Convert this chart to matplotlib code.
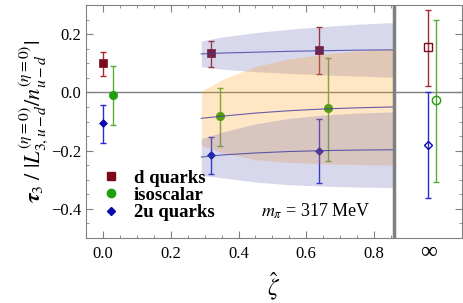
import numpy as np
from matplotlib import pyplot as plt
from matplotlib.lines import Line2D

plt.rcParams['font.family'] = ['Liberation Serif', 'DejaVu Serif']
plt.rcParams['mathtext.fontset'] = 'stix'

# lattice points (zeta_hat, value, upper, lower)
d_x = [0.0, 0.318, 0.637]
d_y = [0.100, 0.135, 0.145]
d_hi = [0.140, 0.177, 0.225]
d_lo = [0.055, 0.088, 0.062]

iso_x = [0.028, 0.344, 0.663]
iso_y = [-0.008, -0.082, -0.054]
iso_hi = [0.090, 0.015, 0.118]
iso_lo = [-0.112, -0.184, -0.234]

u2_x = [0.0, 0.318, 0.637]
u2_y = [-0.106, -0.215, -0.200]
u2_hi = [-0.042, -0.154, -0.090]
u2_lo = [-0.173, -0.280, -0.311]

# extrapolated values at zeta -> infinity
inf_pos = 0.96
d_inf = (0.960, 0.157, 0.284, 0.021)
iso_inf = (0.984, -0.026, 0.249, -0.309)
u2_inf = (0.960, -0.182, 0.000, -0.362)

# fit curves and error bands
band_x = [0.29, 0.35, 0.45, 0.55, 0.65, 0.75, 0.86]
d_fit = [0.132, 0.135, 0.138, 0.141, 0.143, 0.145, 0.146]
d_band_hi = [0.176, 0.190, 0.205, 0.217, 0.226, 0.234, 0.240]
d_band_lo = [0.088, 0.080, 0.071, 0.065, 0.060, 0.056, 0.052]
iso_fit = [-0.089, -0.082, -0.071, -0.063, -0.057, -0.053, -0.050]
iso_band_hi = [0.004, 0.043, 0.089, 0.115, 0.131, 0.142, 0.150]
iso_band_lo = [-0.182, -0.207, -0.231, -0.241, -0.245, -0.248, -0.250]
u2_fit = [-0.222, -0.215, -0.208, -0.203, -0.200, -0.198, -0.197]
u2_band_hi = [-0.159, -0.137, -0.108, -0.089, -0.078, -0.071, -0.067]
u2_band_lo = [-0.285, -0.293, -0.308, -0.317, -0.322, -0.325, -0.327]

d_col, d_err = '#7d0a1c', '#a82a2a'
iso_col, iso_err = '#1f9e10', '#5aaa3a'
u2_col, u2_err = '#0a0ab0', '#2a2ad2'
lav = (0.40, 0.40, 0.72)
ora = (1.0, 0.61, 0.08)

fig = plt.figure(figsize=(4.63, 3.03), dpi=100)
ax = fig.add_axes([0.186, 0.2145, 0.812, 0.769])


def points(x, y, hi, lo, col, ecol, marker, ms, filled=True):
    y = np.array(y)
    yerr = [y - np.array(lo), np.array(hi) - y]
    ax.errorbar(x, y, yerr=yerr, fmt='none', ecolor=ecol, elinewidth=1.0,
                capsize=2.5, capthick=1.0, zorder=2)
    ax.plot(x, y, ls='none', marker=marker, ms=ms, color=col,
            mfc=col if filled else 'none', mew=1.0 if not filled else 0.5, zorder=3)


points(d_x, d_y, d_hi, d_lo, d_col, d_err, 's', 5.5)
points(iso_x, iso_y, iso_hi, iso_lo, iso_col, iso_err, 'o', 6)
points(u2_x, u2_y, u2_hi, u2_lo, u2_col, u2_err, 'D', 4.5)

for (xx, yy, hh, ll), col, ecol, m, ms in [(d_inf, d_col, d_err, 's', 5.5),
                                          (iso_inf, iso_col, iso_err, 'o', 6),
                                          (u2_inf, u2_col, u2_err, 'D', 4.5)]:
    points([xx], [yy], [hh], [ll], col, ecol, m, ms, filled=False)

# bands drawn above the points, semi transparent
ax.fill_between(band_x, d_band_lo, d_band_hi, color=lav, alpha=0.25, lw=0, zorder=4)
ax.fill_between(band_x, iso_band_lo, iso_band_hi, color=ora, alpha=0.25, lw=0, zorder=4)
ax.fill_between(band_x, u2_band_lo, u2_band_hi, color=lav, alpha=0.25, lw=0, zorder=4)
for fit in [d_fit, iso_fit, u2_fit]:
    ax.plot(band_x, fit, color='#3c3ca0', lw=0.8, alpha=0.8, zorder=5)

ax.axhline(0, color='#808080', lw=1.0, zorder=1)
ax.axvline(0.86, color='#808080', lw=2.5, zorder=6)

ax.set_xlim(-0.05, 1.06)
ax.set_ylim(-0.5, 0.3)

ax.set_xticks([0.0, 0.2, 0.4, 0.6, 0.8])
ax.set_xticklabels(['0.0', '0.2', '0.4', '0.6', '0.8'])
ax.set_xticks(np.arange(0, 0.86, 0.05), minor=True)
ax.set_yticks([-0.4, -0.2, 0.0, 0.2])
ax.set_yticklabels(['\u22120.4', '\u22120.2', '0.0', '0.2'])
ax.set_yticks(np.arange(-0.45, 0.3, 0.05), minor=True)
ax.tick_params(which='both', direction='in', top=True, right=True,
               color='#808080', labelsize=12)
ax.tick_params(which='major', length=5)
ax.tick_params(which='minor', length=2.5)
ax.tick_params(axis='x', pad=6)
for s in ax.spines.values():
    s.set_color('#808080')

ax.text(inf_pos, -0.515, '\u221e', ha='center', va='top', fontsize=17,
        transform=ax.transData)

ax.set_xlabel(r'$\hat{\zeta}$', fontsize=17, labelpad=6)
ax.set_ylabel(r'$\boldsymbol{\tau}_3\ /\ |L^{(\eta=0)}_{3,u-d}/n^{(\eta=0)}_{u-d}|$',
              fontsize=16, labelpad=0)

handles = [Line2D([], [], ls='none', marker='s', ms=5.5, color=d_col),
           Line2D([], [], ls='none', marker='o', ms=6, color=iso_col),
           Line2D([], [], ls='none', marker='D', ms=4.5, color=u2_col)]
ax.legend(handles, ['d quarks', 'isoscalar', '2u quarks'], loc='lower left',
          bbox_to_anchor=(0.0, 0.0), frameon=False, handlelength=0.9,
          handletextpad=0.75, labelspacing=0.0,
          prop={'weight': 'bold', 'size': 13.5})

ax.text(0.627, -0.409, r'$m_\pi$ = 317 MeV', fontsize=13, ha='center', va='center')

plt.savefig('out.png', dpi=100)
